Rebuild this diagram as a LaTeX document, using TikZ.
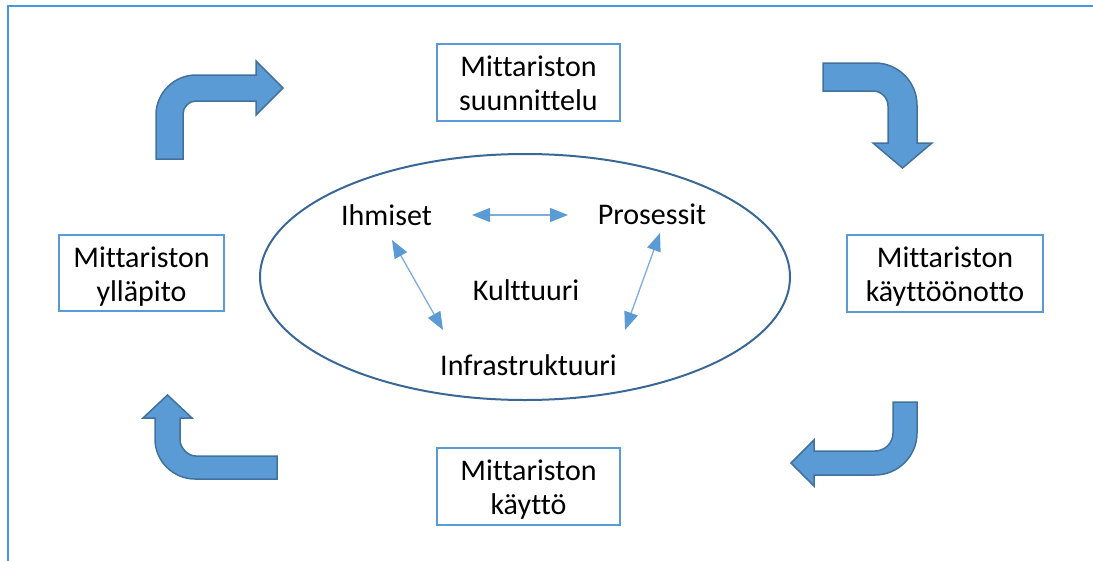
\documentclass[tikz,border=0pt]{standalone}
\usepackage{fontspec}
\setmainfont{Carlito}[Ligatures=NoCommon]
\usetikzlibrary{arrows.meta,calc,shapes.geometric}

\definecolor{arrowfill}{RGB}{91,155,213}
\definecolor{arrowline}{RGB}{65,113,156}
\definecolor{framecol}{RGB}{70,152,222}
\definecolor{boxline}{RGB}{91,155,213}
\definecolor{linkline}{RGB}{125,172,222}
\definecolor{ringline}{RGB}{58,104,150}

\begin{document}
\begin{tikzpicture}[x=1pt,y=-1pt,
  stage/.style={draw=boxline, line width=1.4pt, align=center,
    font=\fontsize{30}{34}\selectfont, inner sep=0pt,
    text height=56pt, text depth=0pt},
  term/.style={anchor=base, font=\fontsize{30}{36}\selectfont, inner sep=0pt},
  link/.style={draw=linkline, line width=1.3pt,
    >={Triangle[length=18pt,width=14pt,color=arrowfill]}, <->},
  bent/.style={fill=arrowfill, draw=arrowline, line width=1.5pt, line join=miter}]

\useasboundingbox (0,0) rectangle (1093,560);

% outer frame (top and left edges)
\draw[framecol, line width=1.5pt] (8,562) -- (8,6) -- (1095,6);

% the four stages of the cycle
\node[stage, minimum width=183pt, minimum height=77pt] (plan)  at (528.5,82.5) {Mittariston\\suunnittelu};
\node[stage, minimum width=196pt, minimum height=77pt] (intro) at (945,273.5)  {Mittariston\\käyttöönotto};
\node[stage, minimum width=165pt, minimum height=76pt] (maint) at (141.5,273)  {Mittariston\\ylläpito};
\node[stage, minimum width=183pt, minimum height=77pt] (use)   at (528.5,486.5) {Mittariston\\käyttö};

% central ellipse
\node[draw=ringline, line width=2pt, ellipse, inner sep=0pt,
      minimum width=530pt, minimum height=246pt] (ring) at (525,277) {};

% terms inside the ellipse
\node[term] (ihm)   at (386.5,225) {Ihmiset};
\node[term] (pro)   at (652,224)   {Prosessit};
\node[term] (kul)   at (526,300)   {Kulttuuri};
\node[term] (infra) at (528.5,375) {Infrastruktuuri};

% two-way links between the terms
\draw[link] ($(ihm.base)+(85.5,-10)$) -- ($(pro.base)+(-84,-9)$);
\draw[link] ($(ihm.base)+(5.5,15)$)   -- ($(infra.base)+(-85.5,-45)$);
\draw[link] ($(pro.base)+(8,9)$)      -- ($(infra.base)+(96.5,-45)$);

% bent arrows running clockwise round the cycle
% top left: up, then right
\draw[bent] (156,159) -- (156,115) .. controls (156,93) and (174,75) .. (196,75)
  -- (256,75) -- (256,61) -- (283,88) -- (256,115) -- (256,101) -- (196,101)
  .. controls (188.85,101) and (183,106.85) .. (183,114) -- (183,159) -- cycle;

% top right: right, then down
\draw[bent] (823,63) -- (875,63) .. controls (898.1,63) and (917,81.9) .. (917,105)
  -- (917,143) -- (932,143) -- (902.5,168) -- (873,143) -- (888,143) -- (888,106)
  .. controls (888,97.75) and (881.25,91) .. (873,91) -- (823,91) -- cycle;

% bottom right: down, then left
\draw[bent] (893,402) -- (917,402) -- (917,433) .. controls (917,456.1) and (898.1,475) .. (875,475)
  -- (814,475) -- (814,486) -- (791,463) -- (814,440) -- (814,451) -- (875,451)
  .. controls (884.9,451) and (893,442.9) .. (893,433) -- cycle;

% bottom left: left, then up
\draw[bent] (277,456) -- (277,479) -- (195,479) .. controls (173,479) and (155,461) .. (155,439)
  -- (155,418) -- (143,418) -- (167.5,395) -- (192,418) -- (180,418) -- (180,440)
  .. controls (180,447.2) and (187.2,456) .. (196,456) -- cycle;

\end{tikzpicture}
\end{document}
